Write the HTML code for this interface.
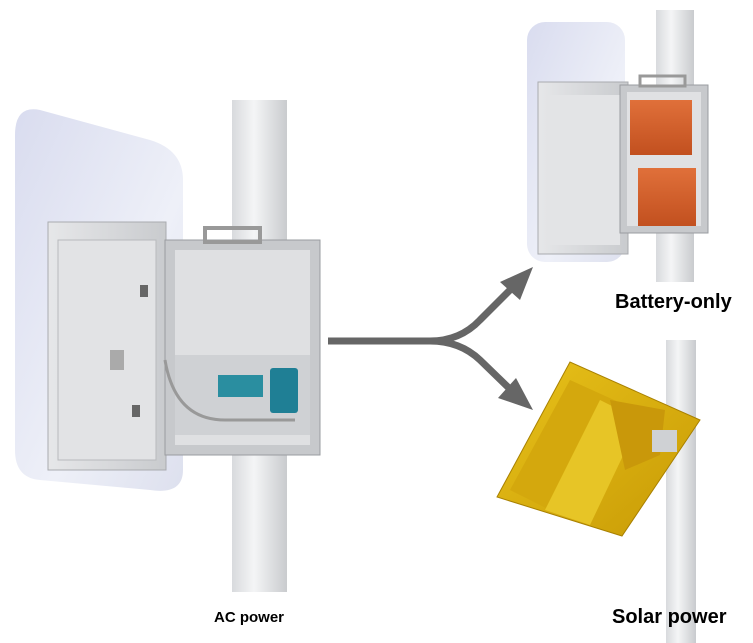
<!DOCTYPE html>
<html><head><meta charset="utf-8"><style>
html,body{margin:0;padding:0;background:#fff;}
svg{display:block;}
text{font-family:"Liberation Sans",Arial,sans-serif;font-weight:bold;fill:#000;}
</style></head><body>
<svg width="753" height="643" viewBox="0 0 753 643" xmlns="http://www.w3.org/2000/svg">
<defs>
<linearGradient id="pole" x1="0" x2="1"><stop offset="0" stop-color="#d8dadd"/><stop offset="0.4" stop-color="#f4f5f6"/><stop offset="1" stop-color="#c9cbce"/></linearGradient>
<linearGradient id="sign" x1="0" x2="1" y1="0" y2="1"><stop offset="0" stop-color="#d9dcef"/><stop offset="0.6" stop-color="#eef0f8"/><stop offset="1" stop-color="#dde0ee"/></linearGradient>
<linearGradient id="door" x1="0" x2="1"><stop offset="0" stop-color="#e6e7e9"/><stop offset="1" stop-color="#c9cbce"/></linearGradient>
<linearGradient id="sol" x1="0" x2="1" y1="0" y2="1"><stop offset="0" stop-color="#e8c21a"/><stop offset="1" stop-color="#c89a05"/></linearGradient>
<linearGradient id="bat" x1="0" x2="0" y1="0" y2="1"><stop offset="0" stop-color="#e0703a"/><stop offset="1" stop-color="#c2501f"/></linearGradient>
</defs>

<rect x="232" y="100" width="55" height="492" fill="url(#pole)"/>
<path d="M40 110 L150 140 Q183 150 183 180 L183 470 Q183 495 150 490 L40 480 Q15 478 15 450 L15 135 Q15 105 40 110 Z" fill="url(#sign)"/>
<rect x="48" y="222" width="118" height="248" fill="url(#door)" stroke="#a9abaf"/>
<rect x="58" y="240" width="98" height="220" fill="#e2e3e5" stroke="#b8babd"/>
<rect x="110" y="350" width="14" height="20" fill="#aaa"/>
<rect x="140" y="285" width="8" height="12" fill="#666"/>
<rect x="132" y="405" width="8" height="12" fill="#666"/>
<rect x="165" y="240" width="155" height="215" fill="#c7c9cc" stroke="#9a9ca0"/>
<rect x="175" y="250" width="135" height="195" fill="#dfe0e2"/>
<rect x="175" y="355" width="135" height="80" fill="#cfd1d4"/>
<rect x="205" y="228" width="55" height="14" fill="none" stroke="#999" stroke-width="4"/>
<rect x="218" y="375" width="45" height="22" fill="#2a8ea0"/>
<rect x="270" y="368" width="28" height="45" fill="#1f7f95" rx="3"/>
<path d="M165 360 q10 60 60 60 l70 0" fill="none" stroke="#999" stroke-width="3"/>

<path d="M328 341 L430 341 Q460 341 480 320 L515 285" fill="none" stroke="#666" stroke-width="7"/>
<path d="M430 341 Q460 341 480 360 L513 392" fill="none" stroke="#666" stroke-width="7"/>
<polygon points="533,267 500,282 520,300" fill="#666"/>
<polygon points="533,410 498,398 516,378" fill="#666"/>

<rect x="656" y="10" width="38" height="272" fill="url(#pole)"/>
<rect x="527" y="22" width="98" height="240" rx="18" fill="url(#sign)"/>
<rect x="538" y="82" width="90" height="172" fill="url(#door)" stroke="#a9abaf"/>
<rect x="548" y="95" width="72" height="150" fill="#e3e4e6"/>
<rect x="620" y="85" width="88" height="148" fill="#c7c9cc" stroke="#9a9ca0"/>
<rect x="627" y="92" width="74" height="134" fill="#e0e1e3"/>
<rect x="630" y="100" width="62" height="55" fill="url(#bat)"/>
<rect x="638" y="168" width="58" height="58" fill="url(#bat)"/>
<rect x="640" y="76" width="45" height="10" fill="none" stroke="#999" stroke-width="3"/>
<text x="615" y="308" font-size="20">Battery-only</text>

<rect x="666" y="340" width="30" height="303" fill="url(#pole)"/>
<polygon points="497,497 570,362 700,420 622,536" fill="url(#sol)" stroke="#a88000"/>
<polygon points="510,490 570,380 625,405 560,515" fill="#d4a80d"/>
<polygon points="545,510 600,400 640,420 590,525" fill="#e7c526"/>
<polygon points="610,400 665,410 660,455 625,470" fill="#c9980a"/>
<rect x="652" y="430" width="25" height="22" fill="#cfd1d4"/>

<text x="214" y="622" font-size="15">AC power</text>
<text x="612" y="623" font-size="20">Solar power</text>
</svg>
</body></html>
